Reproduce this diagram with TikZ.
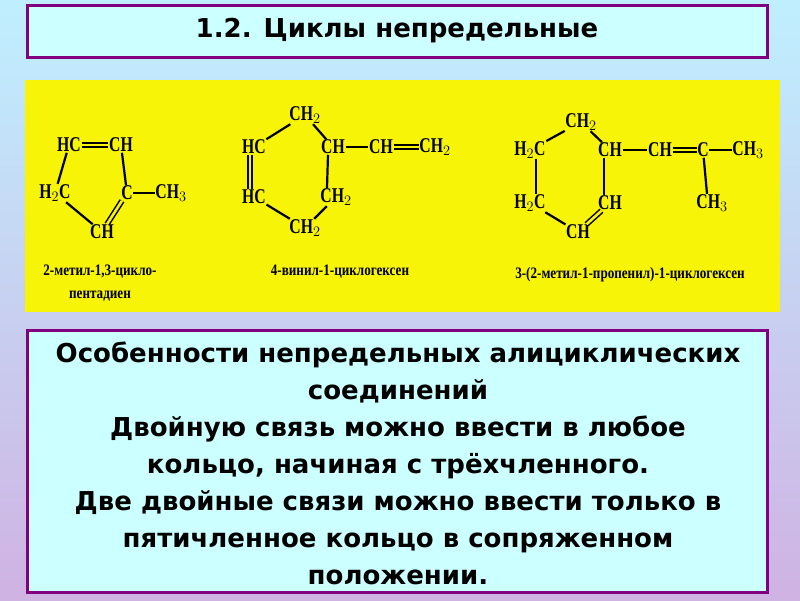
\documentclass[tikz,border=0pt]{standalone}
\usepackage{fontspec}
\setmainfont{Liberation Serif}
\newfontfamily\chem[FakeStretch=0.75]{Liberation Serif}
\newfontfamily\chemcap[FakeStretch=0.82]{Liberation Serif}
\newfontfamily\sans{DejaVu Sans}
\definecolor{ylw}{HTML}{F8F408}
\definecolor{bxfill}{HTML}{CCFFFF}
\definecolor{bxdraw}{HTML}{800080}
\begin{document}
\begin{tikzpicture}[x=1pt,y=-1pt,
  atm/.style={font=\chem\bfseries\fontsize{21}{21}\selectfont, inner sep=0.5pt},
  bd/.style={line width=2.2pt},
  dbd/.style={double=ylw,double distance=2.6pt,line width=1.5pt},
  capt/.style={font=\chemcap\bfseries\fontsize{16}{23}\selectfont, align=center},
  box/.style={draw=bxdraw, line width=3pt, fill=bxfill},
  txt/.style={font=\sans\bfseries\fontsize{26}{37}\selectfont, align=center}]
\shade[top color=blue!25!cyan!25, bottom color=blue!25!violet!30] (0,0) rectangle (800,600);
\useasboundingbox (0,0) rectangle (800,600);
\node[box, minimum width=740, minimum height=52] (title) at (397,31) {};
\node[txt, font=\sans\bfseries\fontsize{26}{30}\selectfont] (tt) at (397,31) {1.2. Циклы непредельные};
\fill[ylw] (25,80) rectangle (780,312);
\node[box, minimum width=740, minimum height=262] (bb) at (397,461) {};
\node[txt] (body) at (398,463) {Особенности непредельных алициклических\\соединений\\Двойную связь можно ввести в любое\\кольцо, начиная с трёхчленного.\\Две двойные связи можно ввести только в\\пятичленное кольцо в сопряженном\\положении.};
% molecule 1
\node[atm] (a1) at (69,145) {HC};
\node[atm] (a2) at (121,145) {CH};
\node[atm] (a3) at (55,193) {H$_2$C};
\node[atm] (a4) at (127,193) {C};
\node[atm] (a5) at (171,193) {CH$_3$};
\node[atm] (a6) at (102,232) {CH};
\draw[dbd] (a1) -- (a2);
\draw[bd] (a1) -- (a3); \draw[bd] (a2) -- (a4); \draw[bd] (a3) -- (a6);
\draw[bd] (a4) -- (a5);
\draw[dbd] (a4) -- (a6);
\node[capt] (c1) at (100,283) {2-метил-1,3-цикло-\\пентадиен};
% molecule 2
\node[atm] (b1) at (305,115) {CH$_2$};
\node[atm] (b2) at (254,147) {HC};
\node[atm] (b3) at (333,147) {CH};
\node[atm] (b4) at (381,147) {CH};
\node[atm] (b5) at (435,147) {CH$_2$};
\node[atm] (b6) at (254,197) {HC};
\node[atm] (b7) at (336,197) {CH$_2$};
\node[atm] (b8) at (305,228) {CH$_2$};
\draw[bd] (b1) -- (b2); \draw[bd] (b1) -- (b3); \draw[bd] (b3) -- (b4);
\draw[dbd] (b4) -- (b5);
\draw[dbd] ([xshift=-4]b2.south) -- ([xshift=-4]b6.north);
\draw[bd] ([xshift=-5]b3.south) -- ([xshift=-9]b7.north); \draw[bd] (b6) -- (b8); \draw[bd] (b7) -- (b8);
\node[capt] (c2) at (340,272) {4-винил-1-циклогексен};
% molecule 3
\node[atm] (d1) at (581,122) {CH$_2$};
\node[atm] (d2) at (530,150) {H$_2$C};
\node[atm] (d3) at (610,150) {CH};
\node[atm] (d4) at (660,150) {CH};
\node[atm] (d5) at (703,150) {C};
\node[atm] (d6) at (748,150) {CH$_3$};
\node[atm] (d7) at (530,203) {H$_2$C};
\node[atm] (d8) at (610,203) {CH};
\node[atm] (d9) at (578,232) {CH};
\node[atm] (d10) at (712,203) {CH$_3$};
\draw[bd] (d1) -- (d2); \draw[bd] (d1) -- (d3); \draw[bd] (d3) -- (d4);
\draw[dbd] (d4) -- (d5);
\draw[bd] (d5) -- (d6); \draw[bd] (d5) -- ([xshift=-5]d10.north);
\draw[bd] ([xshift=6]d2.south) -- ([xshift=6]d7.north);
\draw[bd] ([xshift=-6]d3.south) -- ([xshift=-6]d8.north);
\draw[bd] (d7) -- (d9);
\draw[dbd] (d8) -- (d9);
\node[capt] (c3) at (630,275) {3-(2-метил-1-пропенил)-1-циклогексен};
\end{tikzpicture}
\end{document}
